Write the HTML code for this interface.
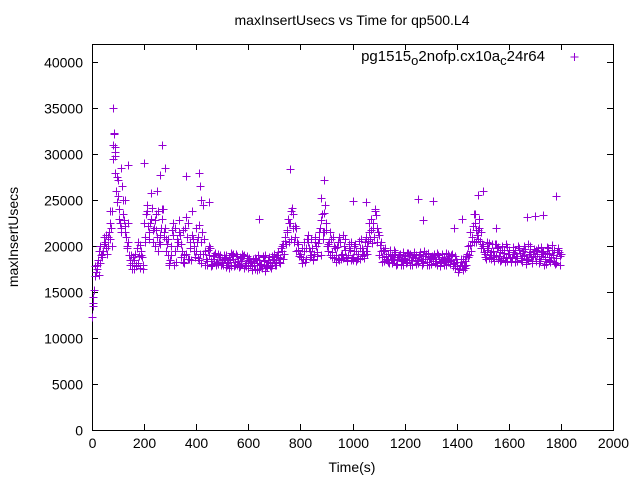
<!DOCTYPE html>
<html><head><meta charset="utf-8">
<style>
body{margin:0;background:#fff;}
svg{display:block;font-family:"Liberation Sans",Arial,sans-serif;}
</style></head>
<body>
<svg id="chart" width="640" height="480">
<rect width="640" height="480" fill="#fff"/>
<text x="352" y="25" text-anchor="middle" font-size="14">maxInsertUsecs vs Time for qp500.L4</text>
<text x="352" y="472" text-anchor="middle" font-size="14">Time(s)</text>
<text transform="translate(18,237) rotate(-90)" text-anchor="middle" font-size="14">maxInsertUsecs</text>
<g id="axes"></g>
<g id="points"></g>
<g>
<text x="545" y="61" text-anchor="end" font-size="15">pg1515<tspan font-size="13" dy="4">o</tspan><tspan dy="-4">2nofp.cx10a</tspan><tspan font-size="13" dy="4">c</tspan><tspan dy="-4">24r64</tspan></text>
<path d="M570.5,57h8M574.5,53v8" stroke="#9400d3" stroke-width="1"/>
</g>
</svg>
<script>
const xTicks=[0,200,400,600,800,1000,1200,1400,1600,1800,2000];
const yTicks=[0,5000,10000,15000,20000,25000,30000,35000,40000];
const seriesA=[12.3,16.8,17.5,18.2,19.1,20.5,21.0,20.8,31.0,30.2,
25.5,22.0,23.5,21.0,20.5,19.0,18.5,17.8,18.9,19.5,
22.5,23.8,21.5,24.2,22.8,21.0,20.2,23.0,22.0,19.0,
18.5,21.2,22.0,20.5,18.8,21.8,19.2,22.5,18.5,20.0,
19.5,22.3,18.2,20.8,18.4,19.0,18.1,18.6,18.3,18.8,
18.2,18.7,17.9,18.5,19.1,18.0,18.4,17.8,18.9,18.2,
17.6,18.3,17.9,18.6,17.5,18.1,18.4,17.7,18.8,18.0,
18.5,19.0,18.2,19.5,20.6,21.8,22.5,23.5,21.0,19.6,
19.2,18.6,19.8,20.5,19.0,18.5,20.0,21.5,22.8,23.6,
21.8,20.5,19.4,18.7,19.9,18.5,19.2,20.8,18.4,19.6,
18.8,20.2,19.1,18.6,19.5,21.0,20.6,21.8,22.5,23.4,
21.2,19.5,18.4,18.9,18.2,19.0,18.6,18.1,18.8,18.4,
18.9,18.3,19.2,18.0,18.7,18.5,19.1,18.2,18.6,19.3,
18.1,18.8,18.4,19.0,18.3,18.7,18.0,18.9,18.5,18.2,
17.8,17.5,17.9,18.4,19.2,20.1,21.0,22.5,21.8,20.6,
20.0,19.2,19.8,18.6,19.5,18.9,19.9,18.5,19.3,18.8,
19.6,18.4,19.1,18.7,19.8,18.3,19.0,18.6,19.4,18.2,
18.9,19.5,18.4,19.2,18.6,19.8,18.3,19.0,18.7,19.6,19.2];
const seriesB=[14.5,17.2,16.9,19.0,20.2,19.8,21.5,23.8,32.3,27.5,
23.0,26.5,22.2,20.0,18.0,17.5,19.2,18.2,20.1,18.0,
21.0,22.2,25.8,20.5,23.5,19.5,22.0,21.5,20.8,18.2,
20.0,18.0,20.8,22.8,19.5,18.2,21.0,19.8,23.8,18.8,
21.0,19.2,24.5,18.0,19.6,17.8,18.9,18.0,19.2,17.9,
18.6,17.7,18.8,19.3,17.8,18.9,18.1,18.7,17.6,18.9,
18.4,17.4,18.7,18.2,17.9,18.8,17.3,18.5,17.8,18.6,
17.9,18.8,19.8,18.6,20.2,22.5,23.8,20.5,22.0,18.9,
18.2,19.5,20.8,18.8,19.8,20.5,19.4,22.0,20.8,24.5,
20.2,19.0,21.0,18.3,20.5,19.0,21.2,18.8,20.2,18.5,
19.5,18.4,20.6,19.8,18.7,20.0,22.5,20.4,23.8,22.0,
20.1,18.8,19.8,18.3,19.6,18.5,19.2,18.8,17.9,19.4,
18.2,19.0,18.5,19.4,18.1,19.0,18.4,19.5,17.9,18.6,
18.9,18.2,19.3,17.8,18.8,18.4,19.2,18.1,17.8,18.9,
17.2,18.3,17.4,18.0,18.8,19.5,20.5,21.8,23.0,21.5,
19.4,20.5,18.7,20.2,19.0,19.8,18.4,19.6,18.3,19.9,
18.7,19.9,18.3,20.0,18.5,19.5,18.1,20.2,18.8,19.7,
19.6,18.2,19.9,18.0,19.3,18.5,20.1,18.3,19.4,18.0];
const seriesC=[13.5,17.8,18.5,20.0,19.5,21.2,20.0,22.0,29.5,26.0,
24.0,21.5,22.8,19.8,19.0,18.2,17.5,19.8,17.6,18.8,
20.5,24.5,22.5,21.8,20.0,23.8,21.2,24.0,19.5,20.8,
19.0,22.5,18.3,21.5,20.2,19.0,23.2,18.6,21.2,19.5,
20.5,18.5,21.5,19.5,18.0,19.8,17.9,19.3,18.1,19.0,
17.9,19.0,18.3,17.8,18.6,19.2,17.7,18.4,19.0,17.8,
18.7,17.8,18.2,17.4,18.5,17.6,19.0,17.9,18.2,18.9,
18.0,19.4,18.7,20.2,21.0,23.0,20.8,22.0,19.5,20.2,
18.8,20.5,18.6,19.8,20.8,19.2,18.9,20.8,23.5,21.5,
20.0,21.5,18.8,19.8,18.6,20.5,18.7,19.6,19.0,20.5,
18.5,19.5,18.7,20.8,19.0,19.5,21.5,23.0,21.0,20.5,
19.0,18.3,19.5,18.5,18.9,18.2,19.4,18.6,19.1,18.0,
18.6,19.3,17.9,18.8,19.0,18.2,18.6,18.9,19.2,18.0,
18.7,19.2,18.0,18.6,19.1,17.9,18.6,18.4,19.2,17.6,
18.3,17.9,18.6,17.6,20.0,21.5,22.2,20.5,20.8,19.8,
19.8,18.6,20.4,19.4,18.4,20.2,18.9,20.0,19.6,18.4,
19.2,18.8,19.6,18.4,19.3,18.9,19.7,18.5,20.0,18.9,
18.4,19.8,18.9,19.5,18.1,19.2,18.8,19.6,18.2,19.4];
const seriesD=[15.2,18.0,19.5,18.8,21.0,19.2,22.5,20.0,30.8,24.8,
22.5,25.0,21.5,22.5,18.5,18.8,18.0,20.5,19.0,17.5,
23.5,20.8,23.0,22.0,21.8,20.5,24.0,21.0,20.2,18.0,
21.8,19.5,20.0,21.2,18.3,22.0,18.6,20.5,20.8,22.0,
18.7,20.5,19.2,18.6,20.0,18.4,19.0,18.2,18.8,18.5,
19.0,18.2,17.6,19.0,18.3,17.9,18.8,19.1,18.0,18.5,
17.9,18.6,17.5,19.0,18.0,18.9,17.8,18.3,17.6,19.2,
18.8,18.3,20.0,19.2,21.5,20.5,24.2,22.2,20.5,19.2,
19.8,18.3,21.2,19.5,18.6,21.0,20.4,19.0,21.5,22.5,
19.5,20.8,20.0,19.0,21.0,18.6,20.0,18.5,19.8,18.7,
20.0,18.6,19.8,18.9,20.5,19.2,20.8,22.0,24.0,21.5,
20.5,19.6,18.6,19.2,18.6,19.6,18.0,19.0,18.5,18.7,
19.3,18.5,18.8,19.1,18.4,19.4,18.0,18.9,18.3,18.8,
18.4,18.6,19.0,18.2,18.5,19.3,18.3,19.0,18.1,18.6,
17.5,18.6,17.8,18.9,19.0,20.6,23.5,21.2,22.0,20.2,
18.8,19.6,19.0,18.8,20.2,18.6,19.4,18.7,20.2,19.1,
18.3,19.4,18.9,19.6,18.7,20.0,18.6,19.2,18.4,19.5,
19.1,18.6,19.4,18.8,19.9,18.4,19.6,18.1,19.8,18.9];
const outlierTimes=[80,85,90,88,100,110,140,200,270,280,250,260,360,410,415,420,450,640,760,890,880,1000,1050,1250,1270,1310,1480,1500,1470,1670,1700,1730,1780,1550,1390,1420,70,125,3,1];
const outlierValues=[35.0,32.2,29.8,28.0,27.2,28.5,28.8,29.0,31.0,28.5,26.0,27.8,27.6,28.0,26.5,25.0,24.8,23.0,28.4,27.2,25.2,24.9,24.8,25.1,22.8,24.9,25.6,26.0,23.5,23.2,23.3,23.4,25.5,22.0,22.0,23.0,23.8,25.0,13.8,12.3];

const L=92,R=613,T=44,B=430,XMAX=2000,YMAX=42000;
const xs=v=>L+(v/XMAX)*(R-L);
const ys=v=>B-(v/YMAX)*(B-T);
const NS="http://www.w3.org/2000/svg";
const axes=document.getElementById('axes');
const pts=document.getElementById('points');
function mk(tag,attrs,parent){const e=document.createElementNS(NS,tag);for(const k in attrs)e.setAttribute(k,attrs[k]);parent.appendChild(e);return e;}
xTicks.forEach(t=>{
  const x=Math.round(xs(t))+0.5;
  const p=mk('path',{d:`M${x},${B}v-6M${x},${T}v6`,stroke:'#000','stroke-width':1},axes);
  
  
  const tx=mk('text',{x:x,y:B+18,'text-anchor':'middle','font-size':14},axes);
  tx.textContent=t;
  
  
});
yTicks.forEach(t=>{
  const y=Math.round(ys(t))+0.5;
  const p=mk('path',{d:`M${L},${y}h6M${R},${y}h-6`,stroke:'#000','stroke-width':1},axes);
  
  
  const tx=mk('text',{x:L-9,y:y+5,'text-anchor':'end','font-size':14},axes);
  tx.textContent=t;
  
  
});
const fr=mk('rect',{x:L+0.5,y:T+0.5,width:R-L,height:B-T,fill:'none',stroke:'#000','stroke-width':1},axes);


function plus(t,v){
  const x=Math.round(xs(t))+0.5,y=Math.round(ys(v*1000))+0.5;
  const p=mk('path',{d:`M${x-4},${y}h8M${x},${y-4}v8`,stroke:'#9400d3','stroke-width':1},pts);
  
  
}
seriesA.forEach((v,i)=>plus(i*10,v));
seriesB.forEach((v,i)=>plus(i*10+5,v));
seriesC.forEach((v,i)=>plus(i*10+2.5,v));
seriesD.forEach((v,i)=>plus(i*10+7.5,v));
outlierTimes.forEach((t,i)=>plus(t,outlierValues[i]));
</script>
</body></html>
